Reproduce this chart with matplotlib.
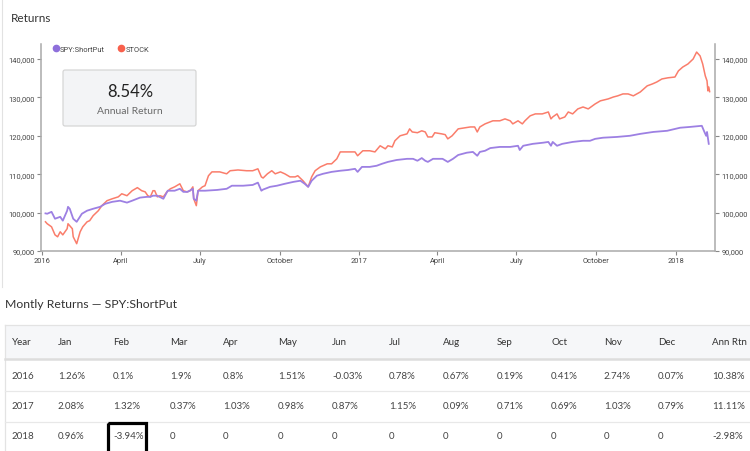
import matplotlib
matplotlib.use("Agg")
from matplotlib import pyplot as plt
import matplotlib.dates as mdates
from matplotlib.patches import FancyBboxPatch, Rectangle
from matplotlib.lines import Line2D
from matplotlib.ticker import FuncFormatter
import pandas as pd

# STOCK equity curve
stock_dates = ["2016-01-05", "2016-01-07", "2016-01-12", "2016-01-16", "2016-01-19", "2016-01-22", "2016-01-25",
               "2016-01-30", "2016-01-31", "2016-02-05", "2016-02-06", "2016-02-10", "2016-02-14", "2016-02-17",
               "2016-02-22", "2016-02-25", "2016-02-29", "2016-03-06", "2016-03-10", "2016-03-16", "2016-03-22",
               "2016-03-29", "2016-04-02", "2016-04-08", "2016-04-14", "2016-04-20", "2016-04-25", "2016-04-29",
               "2016-05-02", "2016-05-05", "2016-05-08", "2016-05-10", "2016-05-13", "2016-05-16", "2016-05-20",
               "2016-05-24", "2016-05-28", "2016-06-02", "2016-06-08", "2016-06-12", "2016-06-16", "2016-06-20",
               "2016-06-23", "2016-06-24", "2016-06-27", "2016-06-29", "2016-07-04", "2016-07-07", "2016-07-11",
               "2016-07-15", "2016-07-24", "2016-08-01", "2016-08-05", "2016-08-14", "2016-08-24", "2016-08-31",
               "2016-09-06", "2016-09-10", "2016-09-12", "2016-09-17", "2016-09-22", "2016-09-26", "2016-10-02",
               "2016-10-07", "2016-10-13", "2016-10-19", "2016-10-22", "2016-10-28", "2016-11-03", "2016-11-07",
               "2016-11-11", "2016-11-17", "2016-11-25", "2016-11-30", "2016-12-06", "2016-12-10", "2016-12-15",
               "2016-12-21", "2016-12-27", "2016-12-30", "2017-01-05", "2017-01-13", "2017-01-19", "2017-01-25",
               "2017-01-31", "2017-02-03", "2017-02-08", "2017-02-11", "2017-02-17", "2017-02-25", "2017-02-28",
               "2017-03-03", "2017-03-09", "2017-03-14", "2017-03-18", "2017-03-21", "2017-03-26", "2017-03-29",
               "2017-04-06", "2017-04-10", "2017-04-13", "2017-04-18", "2017-04-25", "2017-05-03", "2017-05-09",
               "2017-05-14", "2017-05-17", "2017-05-20", "2017-05-26", "2017-06-04", "2017-06-12", "2017-06-18",
               "2017-06-24", "2017-06-27", "2017-07-03", "2017-07-08", "2017-07-11", "2017-07-17", "2017-07-23",
               "2017-07-31", "2017-08-07", "2017-08-10", "2017-08-12", "2017-08-17", "2017-08-20", "2017-08-26",
               "2017-08-30", "2017-09-04", "2017-09-10", "2017-09-16", "2017-09-22", "2017-09-30", "2017-10-06",
               "2017-10-15", "2017-10-21", "2017-10-26", "2017-11-01", "2017-11-07", "2017-11-13", "2017-11-21",
               "2017-11-29", "2017-12-05", "2017-12-10", "2017-12-16", "2017-12-23", "2017-12-31", "2018-01-04",
               "2018-01-09", "2018-01-15", "2018-01-21", "2018-01-25", "2018-01-29", "2018-02-01", "2018-02-04",
               "2018-02-06", "2018-02-07", "2018-02-08", "2018-02-09"]
stock_vals = [97600, 97100, 96300, 94200, 93700, 95000, 94200,
              95800, 97100, 95800, 93700, 91900, 95000, 96300,
              97600, 97900, 99200, 100500, 101800, 103100, 103600,
              104100, 104900, 104400, 105700, 106500, 105700, 105400,
              104400, 104100, 105700, 105700, 104100, 104400, 104100,
              105400, 106200, 106700, 107500, 105700, 105400, 105700,
              106700, 103600, 101800, 105700, 106700, 107000, 109600,
              110600, 110600, 110100, 110900, 111100, 110900, 110900,
              111400, 109300, 109000, 110100, 110900, 110100, 110600,
              110100, 109300, 109300, 109600, 108300, 106700, 109300,
              110900, 111900, 112700, 112700, 114000, 115800, 115800,
              115800, 115800, 114800, 116100, 116100, 115800, 117400,
              116600, 117400, 117100, 118700, 120000, 120500, 121800,
              121000, 120800, 121300, 121000, 119700, 119700, 120800,
              120500, 120300, 119200, 120000, 121800, 122100, 122300,
              122300, 121000, 122300, 123100, 123900, 123900, 124400,
              123900, 123100, 123900, 123100, 123900, 125200, 125700,
              125700, 126200, 124400, 124900, 125700, 124400, 124900,
              126200, 125700, 127000, 127500, 127000, 128300, 129100,
              129600, 130100, 130400, 130900, 130900, 130400, 131400,
              133000, 133500, 134000, 134800, 135100, 135300, 136900,
              137900, 138700, 140000, 141800, 140800, 138700, 135600,
              134300, 131700, 132700, 131500]

# SPY:ShortPut equity curve
spy_dates = ["2016-01-05", "2016-01-07", "2016-01-12", "2016-01-16", "2016-01-22", "2016-01-25", "2016-01-30",
             "2016-01-31", "2016-02-02", "2016-02-06", "2016-02-10", "2016-02-16", "2016-02-22", "2016-02-29",
             "2016-03-08", "2016-03-14", "2016-03-22", "2016-03-31", "2016-04-08", "2016-04-14", "2016-04-23",
             "2016-05-01", "2016-05-05", "2016-05-08", "2016-05-13", "2016-05-20", "2016-05-25", "2016-06-02",
             "2016-06-08", "2016-06-12", "2016-06-17", "2016-06-23", "2016-06-24", "2016-06-27", "2016-06-29",
             "2016-07-07", "2016-07-21", "2016-08-01", "2016-08-07", "2016-08-20", "2016-08-31", "2016-09-06",
             "2016-09-10", "2016-09-12", "2016-09-20", "2016-09-28", "2016-10-07", "2016-10-17", "2016-10-25",
             "2016-10-30", "2016-11-03", "2016-11-07", "2016-11-13", "2016-11-20", "2016-11-30", "2016-12-10",
             "2016-12-19", "2016-12-27", "2016-12-30", "2017-01-04", "2017-01-13", "2017-01-21", "2017-01-27",
             "2017-02-03", "2017-02-13", "2017-02-25", "2017-03-04", "2017-03-09", "2017-03-14", "2017-03-18",
             "2017-03-21", "2017-03-27", "2017-04-07", "2017-04-13", "2017-04-19", "2017-04-25", "2017-05-05",
             "2017-05-12", "2017-05-17", "2017-05-20", "2017-05-26", "2017-06-01", "2017-06-12", "2017-06-24",
             "2017-07-03", "2017-07-05", "2017-07-09", "2017-07-20", "2017-08-01", "2017-08-07", "2017-08-10",
             "2017-08-12", "2017-08-17", "2017-08-23", "2017-09-04", "2017-09-16", "2017-09-24", "2017-09-30",
             "2017-10-09", "2017-10-25", "2017-11-09", "2017-11-21", "2017-12-06", "2017-12-22", "2018-01-06",
             "2018-01-17", "2018-01-31", "2018-02-03", "2018-02-05", "2018-02-06", "2018-02-08"]
spy_vals = [99800, 99700, 100200, 98400, 98900, 97900, 100500,
            101500, 101000, 98400, 97600, 99700, 100500, 101000,
            101500, 102300, 102800, 103100, 102600, 103100, 103900,
            104100, 104100, 104400, 104400, 103600, 105700, 105700,
            106200, 105400, 105400, 106200, 103600, 103100, 105700,
            105700, 105900, 106200, 107000, 107000, 107200, 107800,
            105700, 106000, 106700, 107000, 107500, 108000, 108300,
            107500, 106700, 108300, 109600, 110100, 110600, 110900,
            111100, 111400, 110600, 111900, 111900, 112200, 112700,
            113200, 113700, 114000, 114000, 113500, 114200, 113500,
            113200, 114000, 114000, 113200, 114000, 115000, 115600,
            115800, 114800, 115800, 116100, 116800, 117100, 117100,
            117400, 116300, 117400, 117900, 118200, 118400, 117400,
            118400, 117400, 117900, 118400, 118700, 118700, 119200,
            119500, 119700, 120000, 120500, 121000, 121300, 122100,
            122300, 122600, 121000, 120000, 121000, 117900]

annual_return = "8.54%"

# monthly returns table
months = ["Jan", "Feb", "Mar", "Apr", "May", "Jun", "Jul", "Aug", "Sep", "Oct", "Nov", "Dec"]
years = ["2016", "2017", "2018"]
ret_2016 = [1.26, 0.1, 1.9, 0.8, 1.51, -0.03, 0.78, 0.67, 0.19, 0.41, 2.74, 0.07]
ret_2017 = [2.08, 1.32, 0.37, 1.03, 0.98, 0.87, 1.15, 0.09, 0.71, 0.69, 1.03, 0.79]
ret_2018 = [0.96, -3.94, 0, 0, 0, 0, 0, 0, 0, 0, 0, 0]
ann_rtn = [10.38, 11.11, -2.98]

ytick_vals = [90000, 100000, 110000, 120000, 130000, 140000]
xtick_dates = ["2016-01-01", "2016-04-01", "2016-07-01", "2016-10-01", "2017-01-01",
               "2017-04-01", "2017-07-01", "2017-10-01", "2018-01-01"]
xtick_labels = ["2016", "April", "July", "October", "2017", "April", "July", "October", "2018"]

purple = "#9d80e3"
red = "#fa7d6b"
small = "Roboto"

fig = plt.figure(figsize=(7.5, 4.52), dpi=100)

# page overlay in pixel coordinates
pg = fig.add_axes([0, 0, 1, 1])
pg.set_xlim(0, 750)
pg.set_ylim(452, 0)
pg.axis("off")

pg.plot([2, 2], [0, 288], color="#e2e2e2", lw=0.8)
pg.text(11, 18, "Returns", fontsize=8.5, family="Lato", color="#333333", va="center")

box = FancyBboxPatch((63, 71), 133, 56, boxstyle="round,pad=0,rounding_size=2",
                     facecolor="#f3f4f6", edgecolor="#d2d2d2", lw=0.8)
pg.add_patch(box)
pg.text(130, 92, annual_return, fontsize=12, family="Lato", color="#222222", ha="center", va="center")
pg.text(130, 112, "Annual Return", fontsize=7.5, family="Lato", color="#6a6a6a", ha="center", va="center")

# chart
ax = fig.add_axes([41 / 750, 1 - 252 / 452, 674 / 750, 207 / 452])
ax.patch.set_alpha(0)
ax.plot(pd.to_datetime(stock_dates), stock_vals, color=red, lw=1.1)
ax.plot(pd.to_datetime(spy_dates), spy_vals, color=purple, lw=1.3)

x0 = mdates.date2num(pd.Timestamp("2016-01-01"))
ax.set_xlim(x0 - 1.15, x0 + 776.2)
ax.set_ylim(90000, 143900)
ax.set_yticks(ytick_vals)
ax.yaxis.set_major_formatter(FuncFormatter(lambda v, p: f"{int(v):,}"))
ax.set_xticks(pd.to_datetime(xtick_dates))
ax.set_xticklabels(xtick_labels)
ax.tick_params(axis="both", colors="#888888", labelcolor="#444444", labelsize=5.4, length=3, width=0.8, pad=1.5)
ax.tick_params(axis="y", right=True, labelright=True)
for t in ax.xaxis.get_major_ticks() + ax.yaxis.get_major_ticks():
    t.label1.set_family(small)
    t.label2.set_family(small)
for s in ["left", "right", "bottom"]:
    ax.spines[s].set_color("#aaaaaa")
    ax.spines[s].set_linewidth(1.1)
ax.spines["top"].set_visible(False)

handles = [Line2D([], [], marker="o", ls="", color="#8e6fdb", markersize=4.5),
           Line2D([], [], marker="o", ls="", color="#f8604c", markersize=4.5)]
fig.legend(handles, ["SPY:ShortPut", "STOCK"], loc="center left",
           bbox_to_anchor=(45 / 750, 1 - 50 / 452), ncol=2, frameon=False,
           handletextpad=0.1, columnspacing=1.6, handlelength=1.0,
           prop={"family": small, "size": 5.4}, labelcolor="#444444")

# monthly returns table
pg.text(5, 305, "Montly Returns \u2014 SPY:ShortPut", fontsize=8.8, family="Lato", color="#333333", va="center")

col_x = [12, 58, 113, 170, 223, 278, 332, 389, 443, 497, 551, 604, 658, 712]
row_y = [377, 407, 437]
pg.add_patch(Rectangle((5, 326), 750, 34, facecolor="#f6f7f9", edgecolor="none"))
pg.plot([5, 750], [325.5, 325.5], color="#e3e3e3", lw=0.9)
pg.plot([5, 5], [325.5, 452], color="#e3e3e3", lw=0.9)
pg.plot([5, 750], [360, 360], color="#dddddd", lw=1.8)
pg.plot([5, 750], [391.5, 391.5], color="#e8e8e8", lw=0.9)
pg.plot([5, 750], [422.5, 422.5], color="#e8e8e8", lw=0.9)

header = ["Year"] + months + ["Ann Rtn"]
for x, h in zip(col_x, header):
    pg.text(x, 343, h, fontsize=7, family="Lato", color="#333333", va="center")


def fmt(v):
    return "0" if v == 0 else f"{v:g}%"


for y, yr, rets, ann in zip(row_y, years, [ret_2016, ret_2017, ret_2018], ann_rtn):
    cells = [yr] + [fmt(v) for v in rets] + [fmt(ann)]
    for x, c in zip(col_x, cells):
        pg.text(x, y, c, fontsize=7, family="Lato", color="#444444", va="center")

pg.add_patch(Rectangle((107.5, 423.5), 38.5, 40, facecolor="none", edgecolor="black",
                       lw=2.3, clip_on=True, zorder=5))

fig.savefig("out.png", dpi=100)
